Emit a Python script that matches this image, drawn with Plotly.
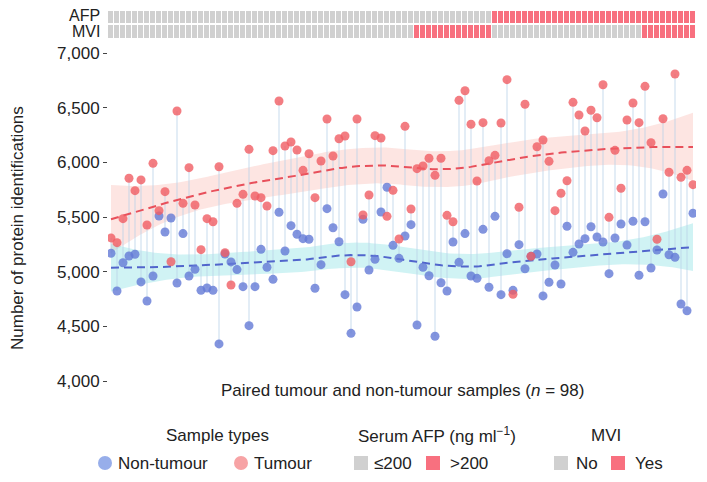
import numpy as np
import plotly.graph_objects as go

# ---------------- data ----------------
tumour = [5308,5265,5485,5854,5741,5839,5427,5991,5558,5732,5091,6470,5625,5951,5610,5201,5485,5457,5960,5174,
          4878,5625,5707,6119,5692,5677,5601,6107,6561,6149,6186,6113,5927,6079,5677,6012,6396,6058,6216,6241,
          5091,6396,5518,5701,6244,6223,5506,5744,5299,6329,5573,5942,5966,6037,5881,6037,5515,5457,6567,6655,
          6348,5829,6363,6015,6064,6360,6756,4793,5589,6531,5140,6143,6204,6009,5558,5717,5832,6549,6433,6287,
          6476,6408,6710,5497,6110,5763,6387,6543,6363,6695,6180,5296,6399,5909,6808,5863,5927,5796]
non_tumour = [5168,4823,5082,5143,5159,4906,4732,4960,5509,5363,5491,4896,5348,4960,5022,4829,4851,4829,4339,5162,
              5089,5019,4863,4506,4863,5204,5040,4930,5543,5189,5421,5342,5302,5296,4848,5064,5576,5402,5274,4790,
              4436,4677,5479,5015,5113,5546,5772,5241,5122,5326,5430,4512,5040,4963,4409,4899,4823,5271,5085,5348,
              4960,4939,5387,4857,5506,4790,5164,4829,5247,5027,5140,5162,4778,4903,5061,4887,5415,5177,5253,5302,
              5411,5317,5271,4982,5308,5436,5244,5461,4967,5457,5034,5198,5710,5155,5131,4704,4643,5534]
# run-length flags per sample (value, count)
afp_runs = [(0, 64), (1, 34)]
mvi_runs = [(0, 51), (1, 13), (0, 25), (1, 9)]
y_ticks = [4000, 4500, 5000, 5500, 6000, 6500, 7000]

def expand(runs):
    out = []
    for v, c in runs:
        out += [v] * c
    return out

afp = expand(afp_runs)
mvi = expand(mvi_runs)
n = len(tumour)
idx = np.arange(n, dtype=float)

# ---------------- loess (span .75, degree 2) with CI ----------------
def loess(x, y, xs, span=0.75):
    x = np.asarray(x, float); y = np.asarray(y, float)
    q = int(np.floor(len(x) * span))
    def row(x0):
        d = np.abs(x - x0)
        h = np.sort(d)[q - 1]
        w = np.clip(1 - (d / h) ** 3, 0, None) ** 3
        X = np.vstack([np.ones_like(x), x - x0, (x - x0) ** 2]).T
        XtW = X.T * w
        return np.linalg.solve(XtW @ X, XtW)[0]
    L = np.array([row(v) for v in x])
    res = y - L @ y
    IL = np.eye(len(x)) - L
    d1 = np.trace(IL.T @ IL)
    sigma = np.sqrt(np.sum(res ** 2) / d1)
    Ls = np.array([row(v) for v in xs])
    fit = Ls @ y
    se = sigma * np.sqrt(np.sum(Ls ** 2, axis=1))
    return fit, fit - 1.985 * se, fit + 1.985 * se

xs = np.linspace(0, n - 1, 200)
fit_t, lo_t, hi_t = loess(idx, tumour, xs)
fit_n, lo_n, hi_n = loess(idx, non_tumour, xs)

RED = "rgba(240,93,99,0.8)"
BLUE = "rgba(99,121,214,0.8)"
FONT = "Liberation Sans, Arial, sans-serif"

fig = go.Figure()

def band(lo, hi, color):
    fig.add_trace(go.Scatter(x=np.concatenate([xs, xs[::-1]]), y=np.concatenate([hi, lo[::-1]]),
                             fill="toself", fillcolor=color, line=dict(width=0),
                             mode="lines", hoverinfo="skip", showlegend=False))

band(lo_t, hi_t, "rgba(248,150,140,0.25)")
band(lo_n, hi_n, "rgba(100,215,220,0.3)")

# connecting segments
sx, sy = [], []
for i in range(n):
    sx += [i, i, None]
    sy += [non_tumour[i], tumour[i], None]
fig.add_trace(go.Scatter(x=sx, y=sy, mode="lines", line=dict(color="rgba(185,210,232,0.8)", width=1),
                         hoverinfo="skip", showlegend=False))

fig.add_trace(go.Scatter(x=xs, y=fit_t, mode="lines", line=dict(color="#E8505B", width=2, dash="8px,5px"),
                         showlegend=False))
fig.add_trace(go.Scatter(x=xs, y=fit_n, mode="lines", line=dict(color="#5165CC", width=2, dash="8px,5px"),
                         showlegend=False))

fig.add_trace(go.Scatter(x=idx, y=non_tumour, mode="markers", marker=dict(size=9, color=BLUE),
                         showlegend=False))
fig.add_trace(go.Scatter(x=idx, y=tumour, mode="markers", marker=dict(size=9, color=RED),
                         showlegend=False))

# annotation strips
fig.add_trace(go.Heatmap(x=list(range(n)), y=[0, 1], z=[mvi, afp], xaxis="x", yaxis="y2",
                         colorscale=[[0, "#D0D0D0"], [0.5, "#D0D0D0"], [0.5, "#F8707F"], [1, "#F8707F"]],
                         zmin=0, zmax=1, showscale=False, xgap=1, ygap=2, hoverinfo="skip"))

L_M, R_M, T_M, B_M = 108, 11, 9, 101
W, H = 707, 482
PW, PH = W - L_M - R_M, H - T_M - B_M

def px(x):
    return (x - L_M) / PW

def py(y):
    return (H - B_M - y) / PH

fig.update_layout(
    template="none",
    width=W, height=H, margin=dict(l=L_M, r=R_M, t=T_M, b=B_M, autoexpand=False),
    paper_bgcolor="white", plot_bgcolor="white", hovermode=False,
    font=dict(family=FONT, size=17, color="#222"),
    xaxis=dict(range=[-0.5, n - 0.5], showticklabels=False, showgrid=False, zeroline=False, ticks="",
               showline=False, automargin=False),
    yaxis=dict(domain=[0, py(53)], range=[4000, 7000], tickvals=y_ticks, tickformat=",",
               ticks="outside", ticklen=4, tickcolor="#444", showgrid=False, zeroline=False,
               showline=False, tickfont=dict(size=17), automargin=False),
    yaxis2=dict(domain=[py(38.5), py(10)], range=[-0.5, 1.5], showticklabels=False, showgrid=False,
                zeroline=False, anchor="x", showline=False, ticks="", automargin=False),
)

ann = []
def text(x, y, s, anchor="center", size=17, angle=0):
    ann.append(dict(x=px(x), y=py(y), xref="paper", yref="paper", text=s, showarrow=False,
                    xanchor=anchor, yanchor="middle", textangle=angle,
                    font=dict(size=size, family=FONT, color="#222")))

text(102, 16, "AFP", "right", size=16)
text(102, 32, "MVI", "right", size=16)
text(18, 228, "Number of protein identifications", angle=-90)
text(403, 390, "Paired tumour and non-tumour samples (<i>n</i> = 98)")
text(217, 435, "Sample types")
text(437, 435, "Serum AFP (ng ml<sup>\u22121</sup>)")
text(606, 435, "MVI")
IY = 463
text(116, IY, "Non-tumour", "left")
text(252, IY, "Tumour", "left")
text(372, IY, "\u2264200", "left")
text(448, IY, ">200", "left")
text(574, IY, "No", "left")
text(633, IY, "Yes", "left")

shapes = []
def circle(cx, cy, r, color):
    shapes.append(dict(type="circle", xref="paper", yref="paper", x0=px(cx - r), x1=px(cx + r),
                       y0=py(cy + r), y1=py(cy - r), fillcolor=color, line=dict(width=0)))

def square(x0, cy, s, color):
    shapes.append(dict(type="rect", xref="paper", yref="paper", x0=px(x0), x1=px(x0 + s),
                       y0=py(cy + s / 2), y1=py(cy - s / 2), fillcolor=color, line=dict(width=0)))

circle(105, IY, 7, "#97AEEA")
circle(241, IY, 7, "#F7A3A5")
square(354, IY, 14, "#D0D0D0")
square(426, IY, 14, "#F8707F")
square(554, IY, 14, "#D0D0D0")
square(611, IY, 14, "#F8707F")

fig.update_layout(annotations=ann, shapes=shapes)
fig.write_html("out.html", config={"displayModeBar": False, "staticPlot": True},
               post_script="document.body.style.margin='0';document.body.style.overflow='hidden';")
